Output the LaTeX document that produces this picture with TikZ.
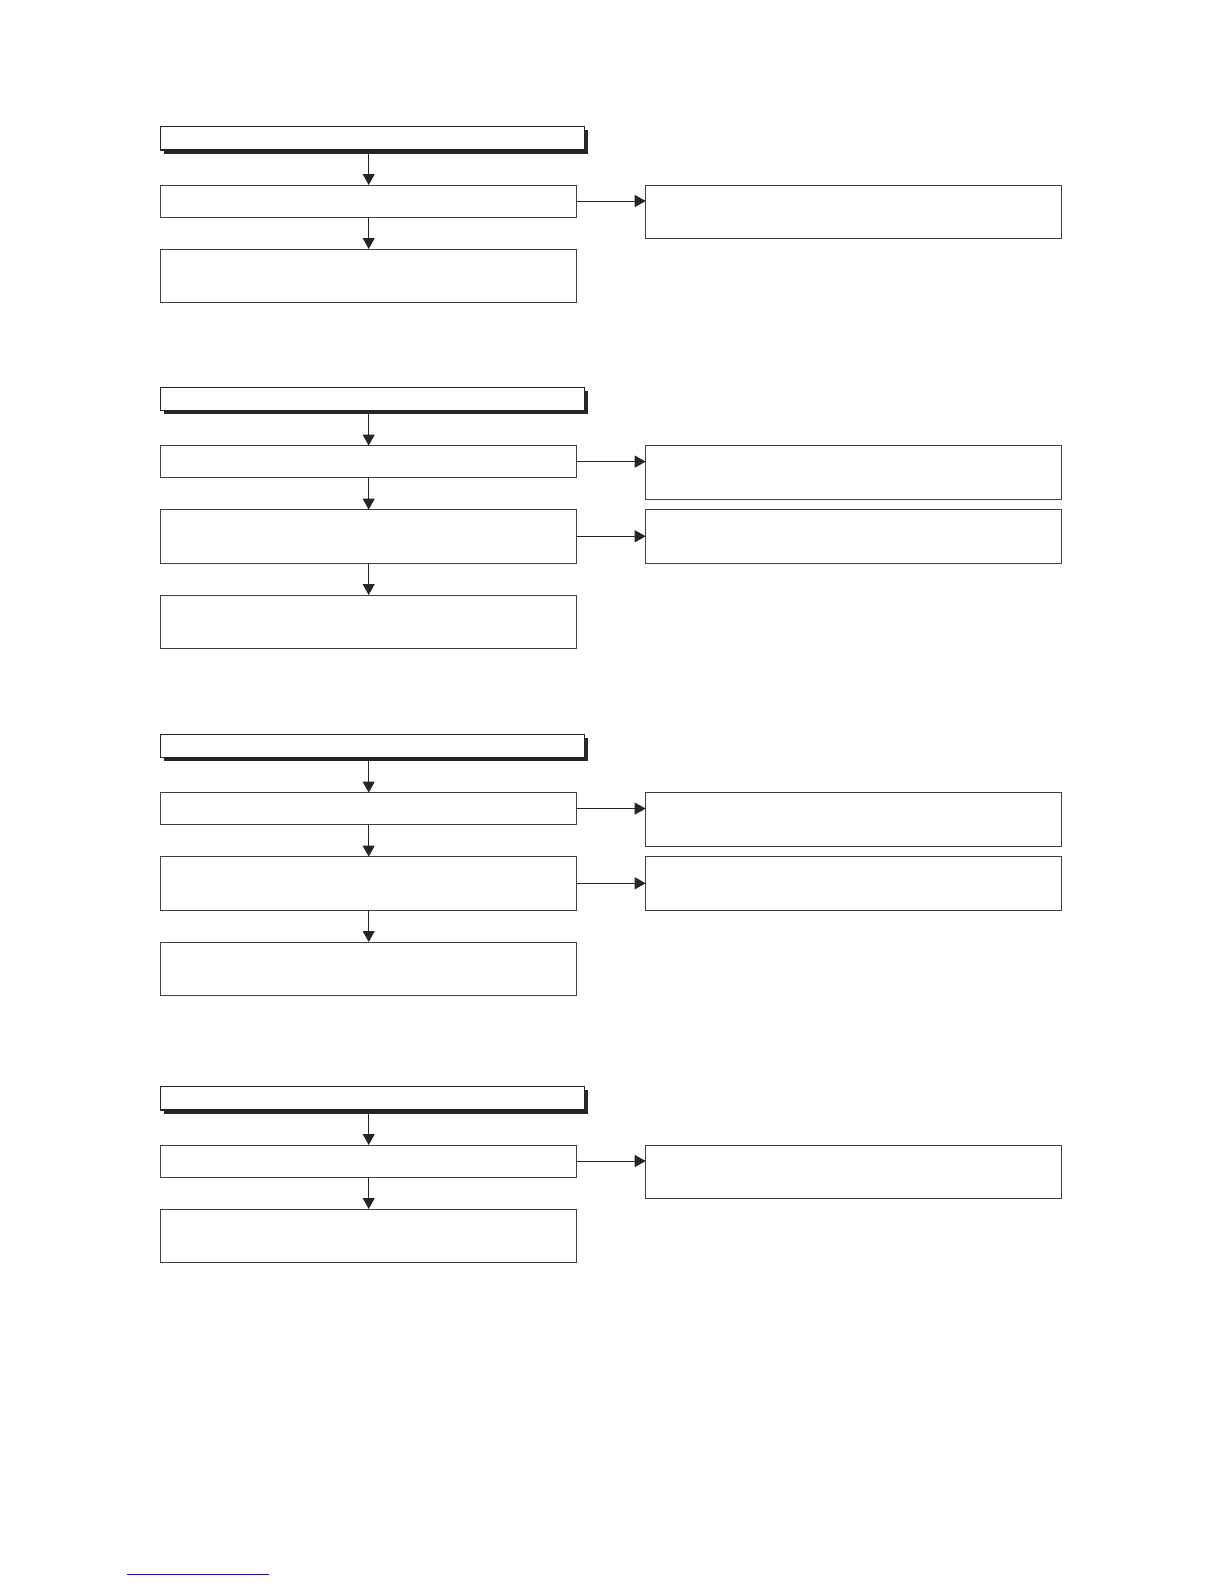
\documentclass[tikz,border=0pt]{standalone}
\usetikzlibrary{positioning,arrows.meta,shadows}
\definecolor{rulenavy}{RGB}{24,24,140}
\tikzset{
head/.style = {draw=black!85, line width=0.6pt, fill=white, rectangle, minimum width=212pt, minimum height=11.65pt,
  inner sep=0pt, outer sep=0pt, drop shadow={shadow xshift=1.75pt, shadow yshift=-1.75pt, fill=black!85, opacity=1}},
block/.style = {draw=black!75, line width=0.5pt, fill=white, rectangle, minimum width=208pt, minimum height=16pt,
  inner sep=0pt, outer sep=0pt},
tall/.style = {block, minimum height=26.7pt},
link/.style = {draw=black!85, line width=0.5pt, -{Triangle[length=5.5pt,width=6pt]}}
}
\begin{document}
\begin{tikzpicture}[x=0.5pt, y=-0.5pt, node distance=16pt and 34.5pt]
    \useasboundingbox (0,0) rectangle (1224,1584);
    % First chart
    \node [head, anchor=north west] at (160.7,126.7) (head1) {};
    \node [block, below=17.5pt of head1.south west, anchor=north west] (a1) {};
    \node [tall, below=of a1] (b1) {};
    \node [tall, right=34.5pt of a1.north east, anchor=north west] (r1) {};
    \draw [link] (a1.north |- head1.south) -- (a1.north);
    \draw [link] (a1) -- (b1);
    \draw [link] (a1.east) -- (a1.east -| r1.west);

    % Second chart
    \node [head, anchor=north west] at (160.7,387.3) (head2) {};
    \node [block, below=17.5pt of head2.south west, anchor=north west] (a2) {};
    \node [tall, below=of a2] (b2) {};
    \node [tall, below=of b2] (c2) {};
    \node [tall, right=34.5pt of a2.north east, anchor=north west] (r2) {};
    \node [tall, right=of b2] (s2) {};
    \draw [link] (a2.north |- head2.south) -- (a2.north);
    \draw [link] (a2) -- (b2);
    \draw [link] (b2) -- (c2);
    \draw [link] (a2.east) -- (a2.east -| r2.west);
    \draw [link] (b2) -- (s2);

    % Third chart
    \node [head, anchor=north west] at (160.7,734.3) (head3) {};
    \node [block, below=17.5pt of head3.south west, anchor=north west] (a3) {};
    \node [tall, below=of a3] (b3) {};
    \node [tall, below=of b3] (c3) {};
    \node [tall, right=34.5pt of a3.north east, anchor=north west] (r3) {};
    \node [tall, right=of b3] (s3) {};
    \draw [link] (a3.north |- head3.south) -- (a3.north);
    \draw [link] (a3) -- (b3);
    \draw [link] (b3) -- (c3);
    \draw [link] (a3.east) -- (a3.east -| r3.west);
    \draw [link] (b3) -- (s3);

    % Fourth chart
    \node [head, anchor=north west] at (160.7,1086.7) (head4) {};
    \node [block, below=17.5pt of head4.south west, anchor=north west] (a4) {};
    \node [tall, below=of a4] (b4) {};
    \node [tall, right=34.5pt of a4.north east, anchor=north west] (r4) {};
    \draw [link] (a4.north |- head4.south) -- (a4.north);
    \draw [link] (a4) -- (b4);
    \draw [link] (a4.east) -- (a4.east -| r4.west);

    % rule at the foot of the page
    \draw [rulenavy, line width=0.6pt] (127,1574.7) -- (269,1574.7);
\end{tikzpicture}
\end{document}
